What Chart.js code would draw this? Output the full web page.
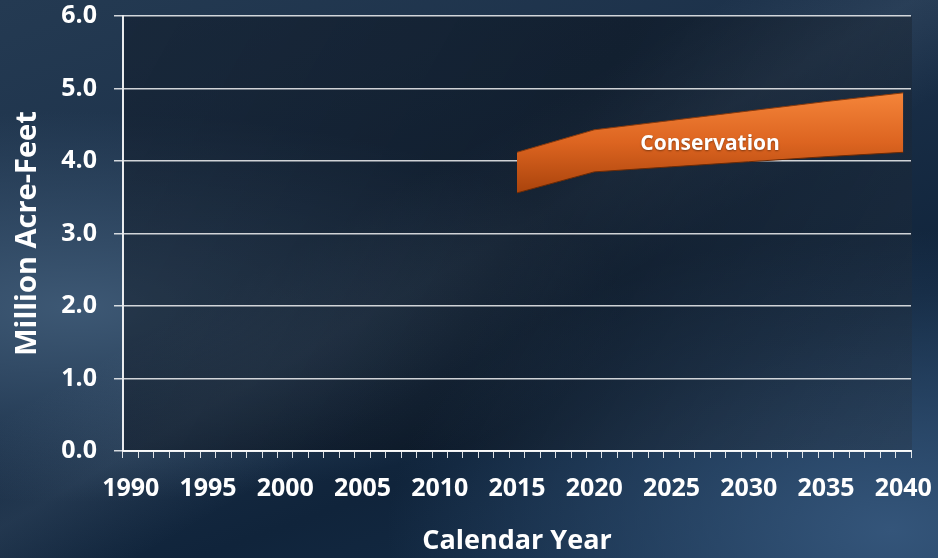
<!DOCTYPE html>
<html>
<head>
<meta charset="utf-8">
<script src="https://cdn.jsdelivr.net/npm/chart.js@4"></script>
<style>
  html, body { margin: 0; padding: 0; }
  body {
    width: 938px; height: 558px; overflow: hidden;
    background:
      linear-gradient(150deg, rgba(255,255,255,0) 38%, rgba(160,185,210,0.10) 48%, rgba(255,255,255,0) 58%),
      radial-gradient(ellipse at 8% 55%, #3d5874 0%, rgba(61,88,116,0) 45%),
      radial-gradient(ellipse at 95% 95%, #34557a 0%, rgba(52,85,122,0) 40%),
      linear-gradient(160deg, #243a52 0%, #1b3049 40%, #10243b 70%, #16304c 100%);
  }
  #wrap { position: relative; width: 938px; height: 558px; }
</style>
</head>
<body>
<div id="wrap"><canvas id="chart" width="938" height="558"></canvas></div>
<script>
// x categories: every calendar year, labelled every 5 years
const allYears = [];
for (let y = 1990; y <= 2040; y++) allYears.push(String(y));

// Conservation band (million acre-feet)
const bandYears = ['2015', '2020', '2025', '2030', '2035', '2040'];
const bandLower = [3.56, 3.85, 3.92, 3.99, 4.06, 4.12];
const bandUpper = [4.12, 4.43, 4.56, 4.69, 4.82, 4.94];
const bandLabel = 'Conservation';

const yTicks = [0, 1, 2, 3, 4, 5, 6];

const FONT = "'Open Sans', 'DejaVu Sans', sans-serif";

// darker tint behind the plot area
const plotTint = {
  id: 'plotTint',
  beforeDraw(chart) {
    const { ctx, chartArea: a } = chart;
    ctx.save();
    const g = ctx.createLinearGradient(a.left, a.top, a.right, a.bottom);
    g.addColorStop(0, 'rgba(14,22,34,0.45)');
    g.addColorStop(0.5, 'rgba(8,14,22,0.5)');
    g.addColorStop(1, 'rgba(40,52,66,0.35)');
    ctx.fillStyle = g;
    ctx.fillRect(a.left, a.top, a.right - a.left + 1, a.bottom - a.top);
    ctx.restore();
  }
};

// label inside the band
const bandText = {
  id: 'bandText',
  afterDatasetsDraw(chart) {
    const { ctx, scales: { x, y } } = chart;
    ctx.save();
    ctx.font = "bold 21px " + FONT;
    ctx.fillStyle = '#ffffff';
    ctx.textAlign = 'center';
    ctx.textBaseline = 'middle';
    ctx.shadowColor = 'rgba(0,0,0,0.4)';
    ctx.shadowBlur = 2;
    ctx.shadowOffsetY = 1;
    ctx.fillText(bandLabel, x.getPixelForValue(37.5), y.getPixelForValue(4.23));
    ctx.restore();
  }
};

function bandFill(context) {
  const { chart } = context;
  const { ctx, chartArea, scales } = chart;
  if (!chartArea) return '#e0651e';
  const g = ctx.createLinearGradient(0, scales.y.getPixelForValue(4.95), 0, scales.y.getPixelForValue(3.55));
  g.addColorStop(0, '#f5853a');
  g.addColorStop(0.5, '#dc6420');
  g.addColorStop(1, '#a9430c');
  return g;
}

new Chart(document.getElementById('chart'), {
  type: 'line',
  data: {
    labels: allYears,
    datasets: [
      {
        label: 'lower',
        data: bandYears.map((yr, i) => ({ x: yr, y: bandLower[i] })),
        borderColor: '#6b2a06',
        borderWidth: 1,
        pointRadius: 0,
        tension: 0,
        fill: false
      },
      {
        label: bandLabel,
        data: bandYears.map((yr, i) => ({ x: yr, y: bandUpper[i] })),
        borderColor: '#8a3a0c',
        borderWidth: 1,
        pointRadius: 0,
        tension: 0,
        fill: '-1',
        backgroundColor: bandFill
      }
    ]
  },
  options: {
    responsive: false,
    animation: false,
    layout: { padding: { top: 16, right: 27, left: 0, bottom: 0 } },
    plugins: {
      legend: { display: false },
      tooltip: { enabled: false }
    },
    scales: {
      x: {
        type: 'category',
        offset: true,
        grid: {
          offset: true,
          drawOnChartArea: false,
          drawTicks: true,
          tickLength: 7,
          color: 'rgba(255,255,255,0.85)',
          lineWidth: 1
        },
        border: { color: 'rgba(255,255,255,0.9)', width: 2 },
        ticks: {
          autoSkip: false,
          maxRotation: 0,
          color: '#ffffff',
          font: { family: FONT, size: 25, weight: 'bold' },
          padding: 16,
          callback(v, i) {
            const yr = Number(allYears[i]);
            return yr % 5 === 0 ? String(yr) : '';
          }
        },
        title: {
          display: true,
          text: 'Calendar Year',
          color: '#ffffff',
          font: { family: FONT, size: 27, weight: 'bold' },
          padding: { top: 8, bottom: 0 }
        },
        afterFit(s) {
          s.height = 107;
          s.paddingLeft = 0;
          s.paddingRight = 0;
        }
      },
      y: {
        min: 0,
        max: 6,
        afterBuildTicks(s) { s.ticks = yTicks.map(v => ({ value: v })); },
        grid: {
          color: 'rgba(255,255,255,0.8)',
          lineWidth: 1.5,
          tickLength: 9
        },
        border: { color: 'rgba(255,255,255,0.9)', width: 2 },
        ticks: {
          color: '#ffffff',
          font: { family: FONT, size: 25, weight: 'bold' },
          padding: 17,
          callback: v => Number(v).toFixed(1)
        },
        title: {
          display: true,
          text: 'Million Acre-Feet',
          color: '#ffffff',
          font: { family: FONT, size: 29, weight: 'bold' },
          padding: { top: 10, bottom: 0 }
        },
        afterFit(s) {
          s.width = 123;
          s.paddingTop = 0;
          s.paddingBottom = 0;
        }
      }
    }
  },
  plugins: [plotTint, bandText]
});
</script>
</body>
</html>
